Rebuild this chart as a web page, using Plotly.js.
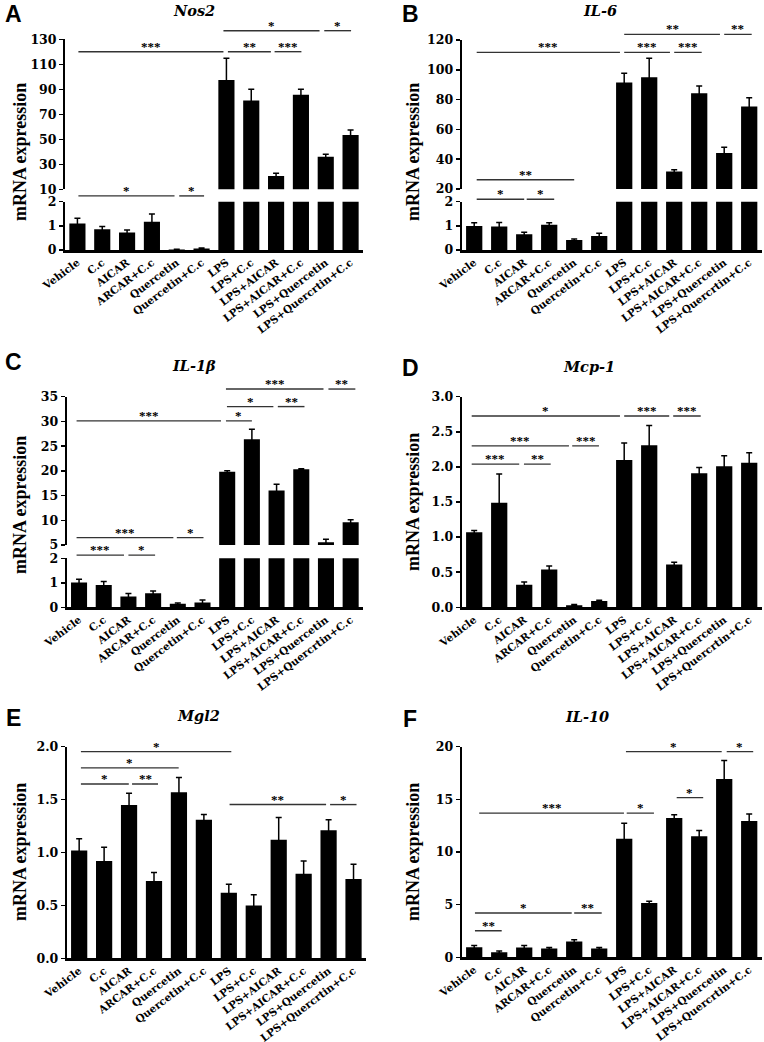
<!DOCTYPE html>
<html><head><meta charset="utf-8">
<script src="https://cdn.plot.ly/plotly-3.0.1.min.js"></script>
<style>body{margin:0;background:#fff;} #chart{width:764px;height:1042px;}</style>
</head><body><div id="chart"></div>
<script>
// ---------- data ----------
const categories = ['Vehicle','C.c','AICAR','ARCAR+C.c','Quercetin','Quercetin+C.c','LPS','LPS+C.c','LPS+AICAR','LPS+AICAR+C.c','LPS+Quercetin','LPS+Quercrtin+C.c'];

const nos2Values = [1.10, 0.86, 0.72, 1.17, 0.02, 0.06, 97.5, 81.0, 20.7, 85.7, 36.1, 53.5];
const nos2Errors = [0.21, 0.11, 0.11, 0.32, 0.01, 0.02, 17.3, 9.0, 2.1, 4.3, 2.0, 4.0];
const il6Values  = [0.99, 0.97, 0.65, 1.05, 0.41, 0.58, 91.4, 95.0, 31.8, 84.3, 44.1, 75.4];
const il6Errors  = [0.14, 0.17, 0.08, 0.08, 0.05, 0.11, 6.3, 12.7, 1.1, 4.9, 4.0, 5.8];
const il1bValues = [1.01, 0.91, 0.44, 0.57, 0.14, 0.20, 19.84, 26.4, 16.0, 20.3, 5.55, 9.6];
const il1bErrors = [0.13, 0.14, 0.12, 0.10, 0.04, 0.10, 0.2, 2.0, 1.3, 0.15, 0.6, 0.5];
const mcp1Values = [1.07, 1.49, 0.32, 0.54, 0.03, 0.09, 2.10, 2.31, 0.61, 1.91, 2.01, 2.06];
const mcp1Errors = [0.025, 0.41, 0.04, 0.05, 0.01, 0.01, 0.24, 0.28, 0.03, 0.08, 0.15, 0.14];
const mgl2Values = [1.02, 0.92, 1.45, 0.73, 1.57, 1.31, 0.62, 0.50, 1.12, 0.80, 1.21, 0.75];
const mgl2Errors = [0.11, 0.13, 0.11, 0.08, 0.14, 0.05, 0.08, 0.10, 0.21, 0.12, 0.10, 0.14];
const il10Values = [0.96, 0.48, 0.92, 0.83, 1.50, 0.83, 11.25, 5.16, 13.22, 11.5, 16.94, 12.94];
const il10Errors = [0.15, 0.12, 0.19, 0.09, 0.16, 0.09, 1.47, 0.16, 0.31, 0.53, 1.75, 0.66];

// significance brackets: [fromIndex, toIndex, yValue, label, axisPart]
const nos2Sig = [[0.04,5.88,120.1,'***','hi'],[6.06,7.79,120.1,'**','hi'],[7.94,9.02,120.1,'***','hi'],
  [5.88,9.75,136.9,'*','hi'],[9.94,11.02,136.9,'*','hi'],[0.04,3.91,2.24,'*','lo'],[4.1,5.1,2.24,'*','lo']];
const il6Sig = [[0.1,5.83,111.7,'***','hi'],[6.0,7.83,111.7,'***','hi'],[8.0,9.1,111.7,'***','hi'],
  [6.0,9.83,123.8,'**','hi'],[10.0,11.1,123.8,'**','hi'],[0.1,4.0,26.25,'**','hi'],
  [0.1,2.0,2.1,'*','lo'],[2.1,3.2,2.1,'*','lo']];
const il1bSig = [[-0.1,5.75,30.1,'***','hi'],[5.95,7.0,30.1,'*','hi'],[5.99,7.87,33,'*','hi'],[8.05,9.13,33,'**','hi'],
  [5.95,9.9,36.55,'***','hi'],[10.1,11.19,36.55,'**','hi'],[-0.1,3.82,6.5,'***','hi'],[3.96,5.04,6.5,'*','hi'],
  [-0.1,1.82,2.13,'***','lo'],[2.0,3.08,2.13,'*','lo']];
const mcp1Sig = [[-0.1,5.83,2.726,'*','lo'],[6.0,7.8,2.726,'***','lo'],[7.96,9.06,2.726,'***','lo'],
  [-0.1,3.79,2.30,'***','lo'],[3.92,4.99,2.30,'***','lo'],[-0.1,1.8,2.04,'***','lo'],[1.99,3.06,2.04,'**','lo']];
const mgl2Sig = [[0.07,6.1,1.953,'*','lo'],[0.07,3.99,1.80,'*','lo'],[0.07,1.99,1.647,'*','lo'],[2.12,3.16,1.647,'**','lo'],
  [6.03,9.9,1.453,'**','lo'],[10.06,11.12,1.453,'*','lo']];
const il10Sig = [[6.07,9.9,19.53,'*','lo'],[10.1,11.16,19.53,'*','lo'],[0.2,5.99,13.69,'***','lo'],[6.1,7.19,13.69,'*','lo'],
  [8.1,9.16,15.16,'*','lo'],[0.03,3.9,4.2,'*','lo'],[4.0,5.1,4.2,'**','lo'],[0.03,1.1,2.52,'**','lo']];

// ---------- layout geometry (pixels) ----------
const W = 764, H = 1042;
const panels = [
  {letter:'A', title:'Nos2', values:nos2Values, errors:nos2Errors, sig:nos2Sig,
   xPx:[65,363], lowPx:[250,201.7], lowRange:[0,2], lowTicks:[0,1,2],
   highPx:[189.3,39.3], highRange:[10,130], highTicks:[10,30,50,70,90,110,130],
   letterPos:[13,14], titlePos:[194,11], yTitlePos:[20,152]},
  {letter:'B', title:'IL-6', values:il6Values, errors:il6Errors, sig:il6Sig,
   xPx:[461.7,761.7], lowPx:[250,201.7], lowRange:[0,2], lowTicks:[0,1,2],
   highPx:[189,40], highRange:[20,120], highTicks:[20,40,60,80,100,120],
   letterPos:[410,14], titlePos:[600,11], yTitlePos:[413,152]},
  {letter:'C', title:'IL-1β', values:il1bValues, errors:il1bErrors, sig:il1bSig,
   xPx:[66.7,363], lowPx:[607.3,558.3], lowRange:[0,2], lowTicks:[0,1,2],
   highPx:[545,396.7], highRange:[5,35], highTicks:[5,10,15,20,25,30,35],
   letterPos:[13,362], titlePos:[194,365], yTitlePos:[20,505]},
  {letter:'D', title:'Mcp-1', values:mcp1Values, errors:mcp1Errors, sig:mcp1Sig,
   xPx:[461.7,761.7], lowPx:[607.3,396.7], lowRange:[0,3], lowTicks:[0,0.5,1,1.5,2,2.5,3], fmt:'.1f',
   letterPos:[410,368], titlePos:[589,366], yTitlePos:[413,502]},
  {letter:'E', title:'Mgl2', values:mgl2Values, errors:mgl2Errors, sig:mgl2Sig,
   xPx:[66.7,366], lowPx:[958.3,746.7], lowRange:[0,2], lowTicks:[0,0.5,1,1.5,2], fmt:'.1f',
   letterPos:[13,718], titlePos:[198,715], yTitlePos:[20,852]},
  {letter:'F', title:'IL-10', values:il10Values, errors:il10Errors, sig:il10Sig,
   xPx:[461.7,761.7], lowPx:[957.3,746.7], lowRange:[0,20], lowTicks:[0,5,10,15,20],
   letterPos:[410,719], titlePos:[587,716], yTitlePos:[413,852]}
];

const tickFont = {family:'DejaVu Serif', size:12.5, color:'#000', weight:'bold'};
const xTickFont = {family:'DejaVu Serif', size:10.5, color:'#000', weight:'bold'};
const starFont = {family:'Liberation Serif', size:13, color:'#000', weight:'bold'};

const layout = {width:W, height:H, margin:{l:0,r:0,t:0,b:0,pad:0}, showlegend:false,
  paper_bgcolor:'#fff', plot_bgcolor:'rgba(0,0,0,0)', shapes:[], annotations:[], dragmode:false};
const traces = [];
let yCount = 1;
const idStr = n => (n===1 ? '' : String(n));

function yAxisObj(domPx, range, ticks, xId, fmt){
  return {domain:[1-domPx[0]/H, 1-domPx[1]/H], anchor:xId, range:range, tickvals:ticks,
    tickformat: fmt || '', showline:true, linewidth:2, linecolor:'#000', ticks:'outside', ticklen:4,
    tickwidth:1.5, tickcolor:'#000', showgrid:false, zeroline:false, tickfont:tickFont, fixedrange:true};
}

panels.forEach((p, i) => {
  const xNum = i+1;
  const xId = 'x'+idStr(xNum);
  const lowNum = yCount++;
  const lowId = 'y'+idStr(lowNum);
  let highNum = null;
  if (p.highRange) highNum = yCount++;
  layout['xaxis'+idStr(xNum)] = {domain:[p.xPx[0]/W, p.xPx[1]/W], anchor:lowId, type:'category',
    range:[-0.5, 11.5], categoryorder:'array', categoryarray:categories, showline:true, linewidth:2.5,
    linecolor:'#000', ticks:'', tickangle:-37, tickfont:xTickFont, showgrid:false, zeroline:false, fixedrange:true};
  layout['yaxis'+idStr(lowNum)] = yAxisObj(p.lowPx, p.lowRange, p.lowTicks, xId, p.fmt);
  const parts = [[lowId, p.lowPx, p.lowRange, 'lo']];
  if (highNum) {
    layout['yaxis'+idStr(highNum)] = yAxisObj(p.highPx, p.highRange, p.highTicks, xId, p.fmt);
    parts.push(['y'+idStr(highNum), p.highPx, p.highRange, 'hi']);
  }
  parts.forEach(([yId]) => {
    traces.push({type:'bar', x:categories, y:p.values, xaxis:xId, yaxis:yId, width:0.65,
      marker:{color:'#000', line:{width:0}}, hoverinfo:'none',
      error_y:{type:'data', array:p.errors, visible:true, color:'#000', thickness:1.5, width:3}});
  });
  // significance brackets
  p.sig.forEach(([a, b, v, lab, part]) => {
    const info = parts.find(q => q[3] === part);
    const dom = layout['yaxis'+info[0].slice(1)].domain;
    const r = info[2];
    const yPaper = dom[0] + (v - r[0]) / (r[1] - r[0]) * (dom[1] - dom[0]);
    layout.shapes.push({type:'line', xref:xId, yref:'paper', x0:a, x1:b, y0:yPaper, y1:yPaper,
      line:{color:'#333', width:1.4}});
    layout.annotations.push({xref:xId, yref:'paper', x:(a+b)/2, y:yPaper, text:lab, showarrow:false,
      xanchor:'center', yanchor:'bottom', yshift:-4, font:starFont});
  });
  // panel letter, title, y-axis title
  layout.annotations.push({xref:'paper', yref:'paper', x:p.letterPos[0]/W, y:1-p.letterPos[1]/H,
    text:p.letter, showarrow:false, xanchor:'center', yanchor:'middle',
    font:{family:'Liberation Sans', size:23, color:'#000', weight:'bold'}});
  layout.annotations.push({xref:'paper', yref:'paper', x:p.titlePos[0]/W, y:1-p.titlePos[1]/H,
    text:p.title, showarrow:false, xanchor:'center', yanchor:'middle',
    font:{family:'DejaVu Serif', size:14.5, color:'#000', weight:'bold', style:'italic'}});
  layout.annotations.push({xref:'paper', yref:'paper', x:p.yTitlePos[0]/W, y:1-p.yTitlePos[1]/H,
    text:'mRNA expression', textangle:-90, showarrow:false, xanchor:'center', yanchor:'middle',
    font:{family:'Liberation Serif', size:18, color:'#000', weight:'bold'}});
});

Plotly.newPlot('chart', traces, layout, {staticPlot:true, displayModeBar:false});
</script>
</body></html>
